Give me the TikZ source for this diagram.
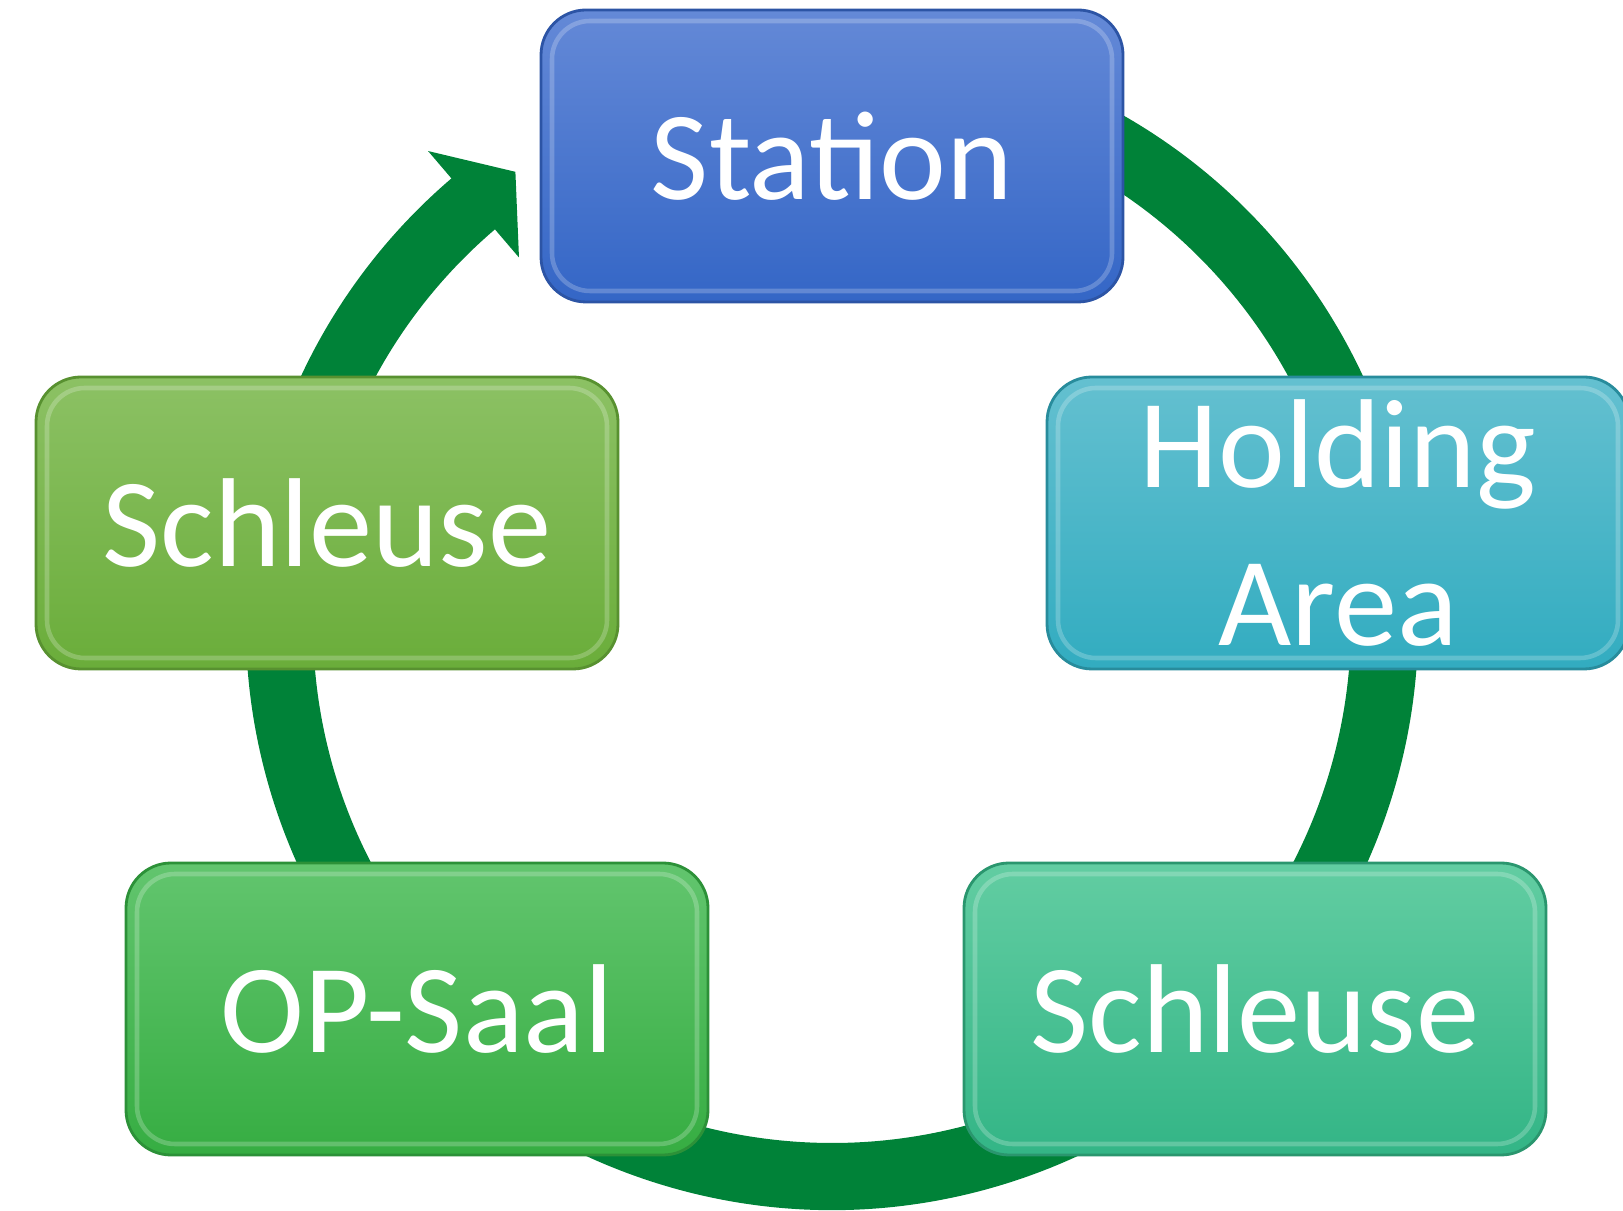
\documentclass[tikz,border=0pt]{standalone}
\usepackage{fontspec}
\setmainfont{Carlito}
\usetikzlibrary{shapes,backgrounds}

\definecolor{ringgreen}{RGB}{0,130,56}
\definecolor{stationTop}{RGB}{100,137,215}
\definecolor{stationBot}{RGB}{52,102,198}
\definecolor{stationRim}{RGB}{44,84,165}
\definecolor{holdTop}{RGB}{100,192,208}
\definecolor{holdBot}{RGB}{50,172,192}
\definecolor{holdRim}{RGB}{40,140,156}
\definecolor{lockLTop}{RGB}{140,193,100}
\definecolor{lockLBot}{RGB}{106,173,58}
\definecolor{lockLRim}{RGB}{88,145,48}
\definecolor{opTop}{RGB}{98,197,110}
\definecolor{opBot}{RGB}{54,173,66}
\definecolor{opRim}{RGB}{44,145,56}
\definecolor{lockRTop}{RGB}{98,205,162}
\definecolor{lockRBot}{RGB}{51,181,134}
\definecolor{lockRRim}{RGB}{42,150,110}

\tikzset{
  stage/.style n args={3}{rectangle, rounded corners=0.45cm,
    minimum width=5.82cm, minimum height=2.92cm, inner sep=0pt,
    top color=#1, bottom color=#2, draw=#3, line width=0.8pt,
    text=white, align=center, font=\fontsize{36}{45}\selectfont,
    path picture={\draw[white, opacity=0.22, line width=1.3pt, rounded corners=0.38cm]
      ([shift={(0.11,0.11)}]path picture bounding box.south west) rectangle
      ([shift={(-0.11,-0.11)}]path picture bounding box.north east);}}
}

\begin{document}
\begin{tikzpicture}
      \useasboundingbox (0,0) rectangle (16.23,12.10);
      \clip (0,0) rectangle (16.23,12.10);
      % ring with arrow head
      \coordinate (hub) at (8.32,5.86);
      \fill[ringgreen] ([shift={(70:5.86)}]hub) arc[start angle=70, end angle=-229.5, radius=5.86]
        -- ([shift={(130.5:6.22)}]hub) -- ([shift={(125:5.52)}]hub)
        -- ([shift={(130.5:4.82)}]hub) -- ([shift={(130.5:5.19)}]hub)
        arc[start angle=-229.5, end angle=70, radius=5.19] -- cycle;
      % stages
      \node[stage={stationTop}{stationBot}{stationRim}] (station) at (8.32,10.54) {Station};
      \node[stage={holdTop}{holdBot}{holdRim}] (holding) at (13.38,6.87) {Holding\\Area};
      \node[stage={lockRTop}{lockRBot}{lockRRim}] (lockout) at (12.55,2.01) {Schleuse};
      \node[stage={opTop}{opBot}{opRim}] (opsaal) at (4.17,2.01) {OP-Saal};
      \node[stage={lockLTop}{lockLBot}{lockLRim}] (lockin) at (3.27,6.87) {Schleuse};
    \end{tikzpicture}
\end{document}
